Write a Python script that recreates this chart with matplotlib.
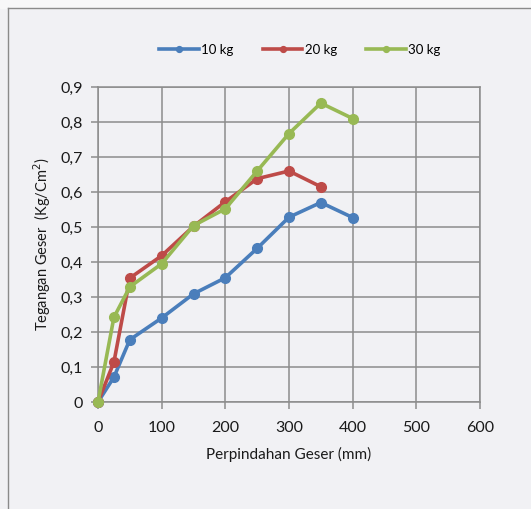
import matplotlib
matplotlib.use("Agg")
import matplotlib.pyplot as plt
from matplotlib.lines import Line2D

# ── data ──────────────────────────────────────────────────────────────────────
disp_10 = [0, 25, 50, 100, 150, 200, 250, 300, 350, 400]
tau_10  = [0, 0.071, 0.178, 0.240, 0.309, 0.355, 0.439, 0.528, 0.570, 0.527]

disp_20 = [0, 25, 50, 100, 150, 200, 250, 300, 350]
tau_20  = [0, 0.114, 0.354, 0.418, 0.502, 0.572, 0.638, 0.660, 0.615]

disp_30 = [0, 25, 50, 100, 150, 200, 250, 300, 350, 400]
tau_30  = [0, 0.242, 0.329, 0.395, 0.504, 0.552, 0.660, 0.767, 0.854, 0.810]

SERIES = [("10 kg", disp_10, tau_10, "#4a7ebb"),
          ("20 kg", disp_20, tau_20, "#be4b48"),
          ("30 kg", disp_30, tau_30, "#98b954")]

X_TICKS = [0, 100, 200, 300, 400, 500, 600]
Y_TICKS = [0, 0.1, 0.2, 0.3, 0.4, 0.5, 0.6, 0.7, 0.8, 0.9]
Y_LABELS = ["0", "0,1", "0,2", "0,3", "0,4", "0,5", "0,6", "0,7", "0,8", "0,9"]

plt.rcParams["font.family"] = ["Lato", "DejaVu Sans"]

# ── figure ────────────────────────────────────────────────────────────────────
fig = plt.figure(figsize=(5.31, 5.09), dpi=100, facecolor="#f1f1f4")
ax = fig.add_axes([98/531, 1 - 402/509, 382/531, 315/509])
ax.set_facecolor("none")

# chart frame lines
fig.add_artist(Line2D([8/531, 1], [1 - 8/509, 1 - 8/509], color="#8a8a8a", lw=1))
fig.add_artist(Line2D([8/531, 8/531], [0, 1 - 8/509], color="#8a8a8a", lw=1))
fig.patches.append(plt.Rectangle((0, 1 - 8/509), 1, 8/509, transform=fig.transFigure,
                                 color="#f7f7f8", zorder=0))

for label, x, y, c in SERIES:
    ax.plot(x, y, color=c, lw=2.6, marker="o", ms=7, label=label, zorder=3,
            clip_on=False)

ax.set_xlim(0, 600)
ax.set_ylim(0, 0.9)
ax.set_xticks(X_TICKS)
ax.set_yticks(Y_TICKS)
ax.set_yticklabels(Y_LABELS)
ax.grid(True, color="#8c8c8c", lw=1.1)
ax.set_axisbelow(True)
for sp in ax.spines.values():
    sp.set_color("#8c8c8c")
    sp.set_linewidth(1.1)
ax.tick_params(axis="both", colors="#8c8c8c", labelcolor="#1a1a1a",
               labelsize=11.5, length=5, width=1.1)
ax.tick_params(axis="x", pad=9)
ax.tick_params(axis="y", pad=6)

ax.set_xlabel("Perpindahan Geser (mm)", fontsize=11, color="#1a1a1a", labelpad=8)
ax.set_ylabel("Tegangan Geser  (Kg/Cm$^2$)", fontsize=10.5, color="#1a1a1a", labelpad=5)

fig.legend(loc="center", bbox_to_anchor=(300/531, 1 - 50/509), ncol=3,
           frameon=False, fontsize=9.5, handlelength=3.0, handletextpad=0.2,
           columnspacing=2.2, markerscale=0.6)

fig.savefig("out.png", dpi=100, facecolor=fig.get_facecolor())
